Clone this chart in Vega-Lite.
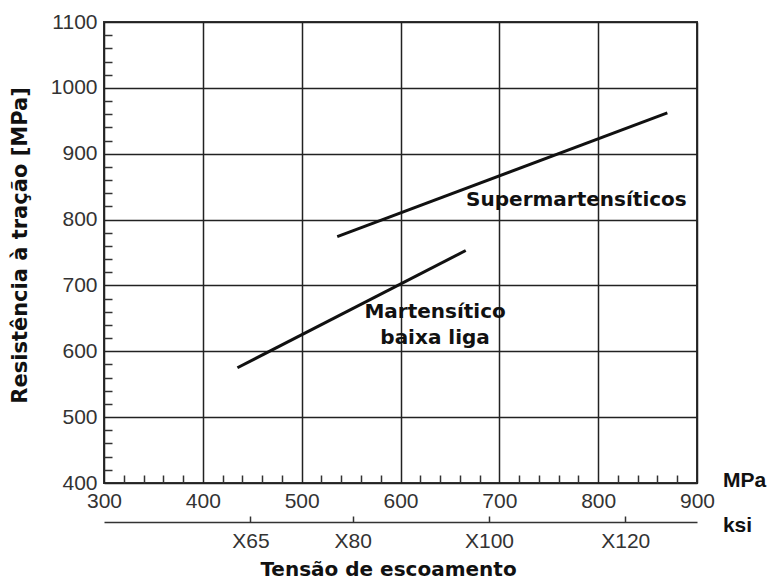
{
  "$schema": "https://vega.github.io/schema/vega-lite/v6.json",
  "width": 593,
  "height": 461,
  "autosize": "none",
  "padding": {"left": 104, "top": 22, "right": 75, "bottom": 98},
  "background": "white",
  "config": {
    "view": {"stroke": "#333", "strokeWidth": 2},
    "axis": {
      "labelFont": "Liberation Sans",
      "labelFontSize": 21,
      "labelColor": "#333",
      "titleFont": "DejaVu Sans",
      "titleFontWeight": "bold",
      "titleFontSize": 21,
      "titleColor": "#111",
      "gridColor": "#222",
      "gridWidth": 1.5,
      "gridOpacity": 1,
      "domain": false,
      "tickColor": "#333",
      "tickWidth": 1.5
    }
  },
  "datasets": {
    "lines": [
      {"series": "Supermartensíticos", "x": 536, "y": 774},
      {"series": "Supermartensíticos", "x": 870, "y": 962},
      {"series": "Martensítico baixa liga", "x": 435, "y": 575},
      {"series": "Martensítico baixa liga", "x": 666, "y": 753}
    ],
    "super": [{"label": "Supermartensíticos", "x": 778, "y": 830}],
    "mart": [{"label": "Martensítico\nbaixa liga", "x": 635, "y": 660}]
  },
  "resolve": {"axis": {"x": "independent", "y": "independent"}},
  "layer": [
    {
      "data": {"name": "lines"},
      "mark": {"type": "line", "color": "#111", "strokeWidth": 3},
      "encoding": {
        "x": {
          "field": "x", "type": "quantitative",
          "scale": {"domain": [300, 900], "nice": false, "zero": false},
          "axis": {
            "orient": "bottom",
            "values": [300, 400, 500, 600, 700, 800, 900],
            "format": "d",
            "grid": true, "ticks": false, "labelPadding": 7,
            "labelFlush": false, "labelOverlap": false,
            "title": "Tensão de escoamento", "titleFontSize": 20,
            "titleX": 284, "titleY": 86, "titleAlign": "center", "titleBaseline": "middle", "titleAngle": 0
          }
        },
        "y": {
          "field": "y", "type": "quantitative",
          "scale": {"domain": [400, 1100], "nice": false, "zero": false},
          "axis": {
            "orient": "left",
            "values": [400, 500, 600, 700, 800, 900, 1000, 1100],
            "format": "d",
            "grid": true, "ticks": false, "labelPadding": 7,
            "labelFlush": false, "labelOverlap": false,
            "title": "Resistência à tração [MPa]",
            "titleX": -84, "titleY": 223, "titleAngle": -90, "titleAlign": "center", "titleBaseline": "middle"
          }
        },
        "detail": {"field": "series", "type": "nominal"}
      }
    },
    {
      "data": {"name": "super"},
      "mark": {"type": "text", "font": "DejaVu Sans", "fontWeight": "bold", "fontSize": 20, "color": "#111", "align": "center", "baseline": "middle"},
      "encoding": {
        "x": {
          "field": "x", "type": "quantitative",
          "scale": {"domain": [300, 900], "nice": false, "zero": false},
          "axis": {
            "orient": "bottom",
            "values": [320, 340, 360, 380, 420, 440, 460, 480, 520, 540, 560, 580, 620, 640, 660, 680, 720, 740, 760, 780, 820, 840, 860, 880],
            "labels": false, "grid": false, "tickSize": -8,
            "title": "MPa", "titleFont": "Liberation Sans", "titleFontSize": 21,
            "titleX": 640, "titleY": -3, "titleAlign": "center", "titleBaseline": "middle", "titleAngle": 0
          }
        },
        "y": {
          "field": "y", "type": "quantitative",
          "scale": {"domain": [400, 1100], "nice": false, "zero": false},
          "axis": {
            "orient": "left",
            "values": [420, 440, 460, 480, 520, 540, 560, 580, 620, 640, 660, 680, 720, 740, 760, 780, 820, 840, 860, 880, 920, 940, 960, 980, 1020, 1040, 1060, 1080],
            "labels": false, "grid": false, "tickSize": -8, "title": null
          }
        },
        "text": {"field": "label", "type": "nominal"}
      }
    },
    {
      "data": {"name": "mart"},
      "mark": {"type": "text", "font": "DejaVu Sans", "fontWeight": "bold", "fontSize": 20, "color": "#111", "align": "center", "baseline": "middle", "lineBreak": "\n", "lineHeight": 26},
      "encoding": {
        "x": {
          "field": "x", "type": "quantitative",
          "scale": {"domain": [300, 900], "nice": false, "zero": false},
          "axis": {
            "orient": "bottom", "offset": 39,
            "values": [448.2, 551.6, 689.5, 827.4],
            "labelExpr": "'X' + round(datum.value / 6.895)",
            "domain": true, "domainColor": "#333", "domainWidth": 1.5,
            "grid": false, "tickSize": -6, "labelPadding": 14,
            "labelFlush": false, "labelOverlap": false,
            "title": "ksi", "titleFont": "Liberation Sans", "titleFontSize": 21,
            "titleX": 633, "titleY": 3, "titleAlign": "center", "titleBaseline": "middle", "titleAngle": 0
          }
        },
        "y": {
          "field": "y", "type": "quantitative",
          "scale": {"domain": [400, 1100], "nice": false, "zero": false},
          "axis": null
        },
        "text": {"field": "label", "type": "nominal"}
      }
    }
  ]
}
